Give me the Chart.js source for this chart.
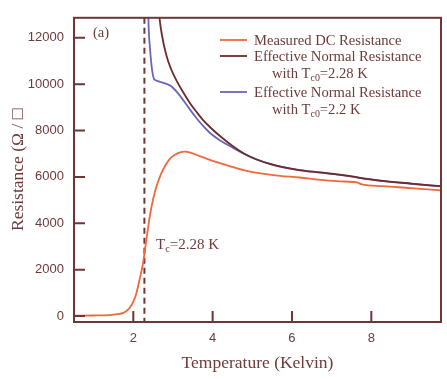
<!DOCTYPE html>
<html>
<head>
<meta charset="utf-8">
<script src="https://cdn.jsdelivr.net/npm/chart.js@4/dist/chart.umd.min.js"></script>
<style>
  html, body { margin: 0; padding: 0; background: #ffffff; }
  #wrap { width: 447px; height: 379px; position: relative; }
</style>
</head>
<body>
<div id="wrap"><canvas id="chart"></canvas></div>
<script>
// measured DC resistance
const tempDC = [0.5, 1.0, 1.4, 1.6, 1.75, 1.85, 1.92, 2.0, 2.08, 2.15, 2.24, 2.30, 2.36, 2.42, 2.5, 2.59, 2.7, 2.8, 2.92, 3.05, 3.18, 3.3, 3.45, 3.68, 4.02, 4.5, 4.86, 5.3, 5.7, 6.2, 6.71, 7.2, 7.63, 7.76, 8.3, 9.0, 9.76];
const resDC = [20, 25, 40, 80, 140, 250, 380, 620, 1000, 1515, 2225, 2930, 3650, 4350, 5050, 5620, 6130, 6470, 6780, 6960, 7060, 7090, 7040, 6895, 6680, 6430, 6260, 6130, 6047, 5975, 5870, 5810, 5762, 5680, 5600, 5520, 5420];

// effective normal resistance, Tc0 = 2.28 K
const tempN228 = [2.6, 2.66, 2.72, 2.84, 2.96, 3.09, 3.25, 3.43, 3.6, 3.76, 3.95, 4.2, 4.52, 4.8, 5.1, 5.45, 5.78, 6.2, 6.71, 7.2, 7.63, 7.76, 8.3, 9.0, 9.76];
const resN228 = [14000, 12860, 12130, 11200, 10620, 10150, 9670, 9180, 8790, 8450, 8120, 7740, 7310, 7000, 6760, 6560, 6420, 6295, 6195, 6100, 5990, 5945, 5830, 5715, 5600];

// effective normal resistance, Tc0 = 2.2 K
const tempN22 = [2.37, 2.38, 2.42, 2.46, 2.49, 2.52, 2.55, 2.62, 2.72, 2.82, 2.93, 3.03, 3.13, 3.28, 3.43, 3.6, 3.76, 3.95, 4.2, 4.52, 4.8, 5.1, 5.45, 5.78, 6.2, 6.71, 7.2, 7.63, 7.76, 8.3, 9.0, 9.76];
const resN22 = [14000, 12860, 11560, 10800, 10430, 10230, 10180, 10130, 10080, 10020, 9940, 9790, 9600, 9260, 8900, 8520, 8200, 7870, 7560, 7250, 6985, 6750, 6550, 6410, 6285, 6185, 6090, 5980, 5935, 5820, 5705, 5590];

const xTicks = [2, 4, 6, 8];
const yTicks = [0, 2000, 4000, 6000, 8000, 10000, 12000];
const xRange = [0.505, 9.757];
const yRange = [-255, 12860];
const tcValue = 2.28;

const seriesLabels = ["Measured DC Resistance", "Effective Normal Resistance", "Effective Normal Resistance"];
const seriesSubLines = [null, ["with T", "c0", "=2.28 K"], ["with T", "c0", "=2.2 K"]];

const BROWN = "#6e3636";
const TEXT = "#6e3a3a";
const ORANGE = "#f0683c";
const DARK = "#6c2c2c";
const BLUE = "#6a66b6";
const SERIF = "'Liberation Serif', 'Times New Roman', serif";
const SANS = "'Liberation Sans', Arial, sans-serif";

function points(xs, ys) {
  return xs.map((x, i) => ({ x: x, y: ys[i] }));
}

function subText(ctx, x, y, parts, size) {
  // parts: [main, subscript, rest]
  ctx.font = size + "px " + SERIF;
  ctx.fillText(parts[0], x, y);
  x += ctx.measureText(parts[0]).width;
  ctx.font = (size * 0.68) + "px " + SERIF;
  ctx.fillText(parts[1], x, y + size * 0.3);
  x += ctx.measureText(parts[1]).width;
  ctx.font = size + "px " + SERIF;
  ctx.fillText(parts[2], x, y);
}

const framePlugin = {
  id: "frame",
  beforeDatasetsDraw(chart) {
    const { ctx, chartArea: a, scales } = chart;
    const px = scales.x.getPixelForValue(tcValue);
    ctx.save();
    ctx.strokeStyle = BROWN;
    ctx.lineWidth = 2;
    ctx.setLineDash([6, 4]);
    ctx.beginPath();
    ctx.moveTo(px, a.top);
    ctx.lineTo(px, a.bottom);
    ctx.stroke();
    ctx.restore();
  },
  afterDatasetsDraw(chart) {
    const { ctx, chartArea: a, scales } = chart;
    ctx.save();
    ctx.strokeStyle = BROWN;
    ctx.lineWidth = 2;
    ctx.strokeRect(a.left, a.top, a.right - a.left, a.bottom - a.top);
    ctx.beginPath();
    yTicks.forEach((v) => {
      const y = scales.y.getPixelForValue(v);
      ctx.moveTo(a.left, y);
      ctx.lineTo(a.left + 11, y);
    });
    xTicks.forEach((v) => {
      const x = scales.x.getPixelForValue(v);
      ctx.moveTo(x, a.bottom);
      ctx.lineTo(x, a.bottom - 11);
    });
    ctx.stroke();

    // legend
    const rows = [41, 57, 93];
    const subRows = [null, 74, 110];
    ctx.fillStyle = TEXT;
    ctx.textBaseline = "middle";
    ctx.textAlign = "left";
    chart.data.datasets.forEach((ds, i) => {
      ctx.strokeStyle = ds.borderColor;
      ctx.lineWidth = 1.8;
      ctx.beginPath();
      ctx.moveTo(220, rows[i] - 1);
      ctx.lineTo(247, rows[i] - 1);
      ctx.stroke();
      ctx.font = "14.6px " + SERIF;
      ctx.fillText(seriesLabels[i], 254, rows[i]);
      if (seriesSubLines[i]) subText(ctx, 272, subRows[i], seriesSubLines[i], 14.6);
    });

    ctx.font = "14.6px " + SERIF;
    ctx.fillText("(a)", 93, 33);
    subText(ctx, 156, 245, ["T", "c", "=2.28 K"], 15);
    ctx.restore();
  }
};

new Chart(document.getElementById("chart"), {
  type: "line",
  data: {
    datasets: [
      { label: seriesLabels[0], data: points(tempDC, resDC), borderColor: ORANGE, borderWidth: 1.8, pointRadius: 0, cubicInterpolationMode: "monotone", fill: false },
      { label: seriesLabels[1], data: points(tempN228, resN228), borderColor: DARK, borderWidth: 1.8, pointRadius: 0, cubicInterpolationMode: "monotone", fill: false },
      { label: seriesLabels[2], data: points(tempN22, resN22), borderColor: BLUE, borderWidth: 1.8, pointRadius: 0, cubicInterpolationMode: "monotone", fill: false },
    ],
  },
  options: {
    responsive: true,
    maintainAspectRatio: false,
    animation: false,
    devicePixelRatio: 1,
    layout: { padding: { top: 13, right: 6, left: 0, bottom: 0 } },
    plugins: { legend: { display: false }, tooltip: { enabled: false } },
    scales: {
      x: {
        type: "linear",
        min: xRange[0],
        max: xRange[1],
        afterBuildTicks: (s) => { s.ticks = xTicks.map((v) => ({ value: v })); },
        afterFit: (s) => { s.height = 57; },
        grid: { display: false, drawTicks: false },
        border: { display: false },
        ticks: { color: TEXT, font: { family: SANS, size: 13 }, padding: 9, callback: (v) => String(v) },
        title: { display: true, text: "Temperature (Kelvin)", color: TEXT, font: { family: SERIF, size: 17.5 }, padding: { top: 0, bottom: 5 } },
      },
      y: {
        type: "linear",
        min: yRange[0],
        max: yRange[1],
        afterBuildTicks: (s) => { s.ticks = yTicks.map((v) => ({ value: v })); },
        afterFit: (s) => { s.width = 74; },
        grid: { display: false, drawTicks: false },
        border: { display: false },
        ticks: { color: TEXT, font: { family: SANS, size: 13 }, padding: 10, callback: (v) => String(v) },
        title: { display: true, text: "Resistance (Ω / □", color: TEXT, font: { family: SERIF, size: 17.5 }, padding: { top: 8, bottom: 0 } },
      },
    },
  },
  plugins: [framePlugin],
});
</script>
</body>
</html>
